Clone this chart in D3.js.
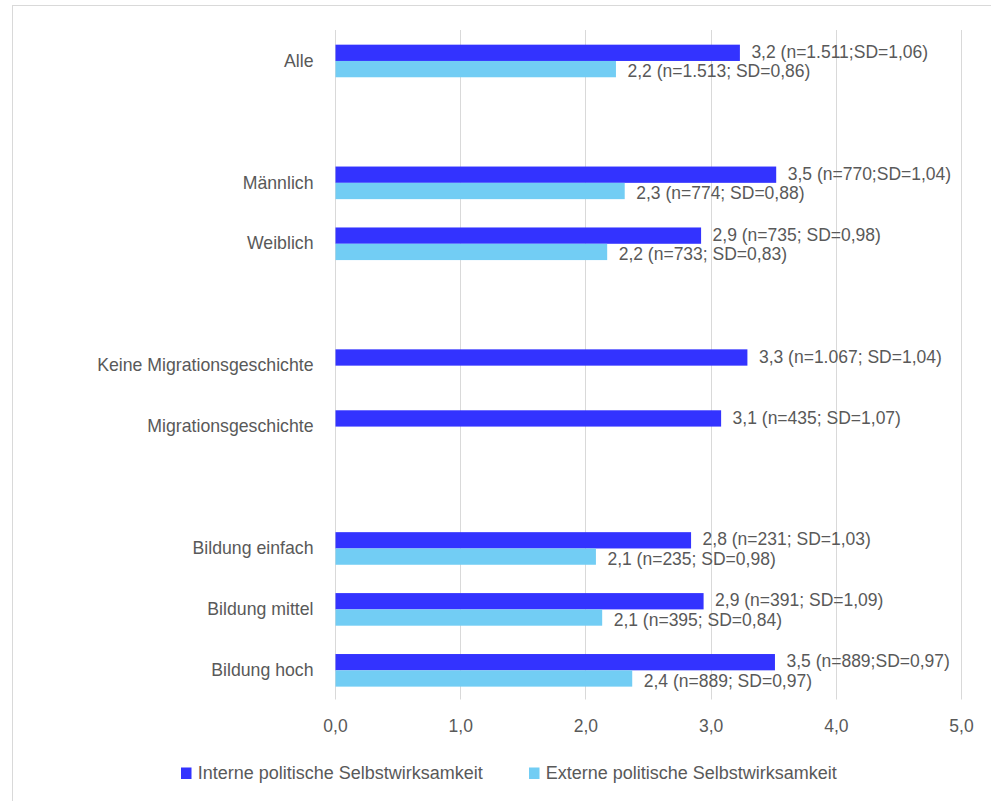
<!DOCTYPE html>
<html>
<head>
<meta charset="utf-8">
<script src="https://cdn.jsdelivr.net/npm/d3@7/dist/d3.min.js"></script>
<style>
  html, body { margin: 0; padding: 0; background: #ffffff; }
  svg { display: block; }
  text { font-family: "Liberation Sans", Arial, sans-serif; fill: #595959; }
</style>
</head>
<body>
<div id="chart"></div>
<script>
// ---- data ----
const categories = ["Alle", "", "Männlich", "Weiblich", "", "Keine Migrationsgeschichte", "Migrationsgeschichte", "", "Bildung einfach", "Bildung mittel", "Bildung hoch"];
const interneValues = [3.23, null, 3.52, 2.92, null, 3.29, 3.08, null, 2.84, 2.94, 3.51];
const externeValues = [2.24, null, 2.31, 2.17, null, null, null, null, 2.08, 2.13, 2.37];
const interneLabels = ["3,2 (n=1.511;SD=1,06)", "", "3,5 (n=770;SD=1,04)", "2,9 (n=735; SD=0,98)", "", "3,3 (n=1.067; SD=1,04)", "3,1 (n=435; SD=1,07)", "", "2,8 (n=231; SD=1,03)", "2,9 (n=391; SD=1,09)", "3,5 (n=889;SD=0,97)"];
const externeLabels = ["2,2 (n=1.513; SD=0,86)", "", "2,3 (n=774; SD=0,88)", "2,2 (n=733; SD=0,83)", "", "", "", "", "2,1 (n=235; SD=0,98)", "2,1 (n=395; SD=0,84)", "2,4 (n=889; SD=0,97)"];
const seriesNames = ["Interne politische Selbstwirksamkeit", "Externe politische Selbstwirksamkeit"];
const seriesKeys = ["interne", "externe"];
const tickValues = [0, 1, 2, 3, 4, 5];
const tickLabels = ["0,0", "1,0", "2,0", "3,0", "4,0", "5,0"];

// ---- layout ----
const W = 991, H = 801;
const colors = { interne: "#3333ff", externe: "#72cdf4" };
const gridColor = "#d9d9d9";
const fontSize = 17.5;
const legendFontSize = 18;

const svg = d3.select("#chart").append("svg").attr("width", W).attr("height", H);
svg.append("rect").attr("width", W).attr("height", H).attr("fill", "#fff");
// outer chart border (extends beyond the visible frame right/bottom)
svg.append("rect").attr("x", 12.5).attr("y", 5.5).attr("width", W + 20).attr("height", H + 20)
  .attr("fill", "none").attr("stroke", gridColor).attr("stroke-width", 1);

const x = d3.scaleLinear().domain([0, 5]).range([335, 961]);
const y = d3.scaleBand().domain(d3.range(categories.length)).range([30.5, 700.8])
  .paddingInner(0.465).paddingOuter(0.2325);
const ySub = d3.scaleBand().domain(seriesKeys).range([0, y.bandwidth()]);

// gridlines
svg.append("g").selectAll("line").data(tickValues).join("line")
  .attr("x1", d => Math.round(x(d)) + 0.5).attr("x2", d => Math.round(x(d)) + 0.5)
  .attr("y1", 30).attr("y2", 699.5)
  .attr("stroke", gridColor).attr("stroke-width", 1);

// x axis tick labels
const xAxis = d3.axisBottom(x).tickValues(tickValues).tickSize(0).tickPadding(0)
  .tickFormat((d, i) => tickLabels[i]);
const gx = svg.append("g").attr("transform", "translate(0,726)").call(xAxis);
gx.select(".domain").remove();
gx.selectAll("text").attr("dy", "0.35em").attr("y", 0)
  .style("font-size", fontSize + "px").style("font-family", '"Liberation Sans", Arial, sans-serif').attr("fill", "#595959");

// category labels
const yAxis = d3.axisLeft(y).tickSize(0).tickPadding(21.5).tickFormat(i => categories[i]);
const gy = svg.append("g").attr("transform", "translate(335,0)").call(yAxis);
gy.select(".domain").remove();
gy.selectAll("text").style("font-size", "17.7px")
  .style("font-family", '"Liberation Sans", Arial, sans-serif').attr("fill", "#595959");

// bars
const rows = categories.map((c, i) => ({
  i, interne: interneValues[i], externe: externeValues[i],
  interneLabel: interneLabels[i], externeLabel: externeLabels[i]
}));
const barData = [];
rows.forEach(r => seriesKeys.forEach(k => {
  if (r[k] != null) barData.push({ i: r.i, key: k, value: r[k], label: r[k + "Label"] });
}));

svg.append("g").selectAll("rect").data(barData).join("rect")
  .attr("x", x(0) + 0.5)
  .attr("y", d => y(d.i) + ySub(d.key))
  .attr("width", d => x(d.value) - x(0))
  .attr("height", ySub.bandwidth())
  .attr("fill", d => colors[d.key]);

// data labels
svg.append("g").selectAll("text").data(barData).join("text")
  .attr("x", d => x(d.value) + 12)
  .attr("y", d => y(d.i) + ySub(d.key) + ySub.bandwidth() / 2 + (d.key === "interne" ? -1 : 2))
  .attr("dy", "0.35em")
  .style("font-size", fontSize + "px")
  .text(d => d.label);

// legend
const legendX = [181, 529];
const lg = svg.append("g").selectAll("g").data(seriesKeys).join("g")
  .attr("transform", (d, i) => `translate(${legendX[i]},773)`);
lg.append("rect").attr("x", 0).attr("y", -5.5).attr("width", 10.5).attr("height", 11.5)
  .attr("fill", d => colors[d]);
lg.append("text").attr("x", 16.7).attr("y", 0).attr("dy", "0.35em")
  .style("font-size", legendFontSize + "px").text((d, i) => seriesNames[i]);
</script>
</body>
</html>
